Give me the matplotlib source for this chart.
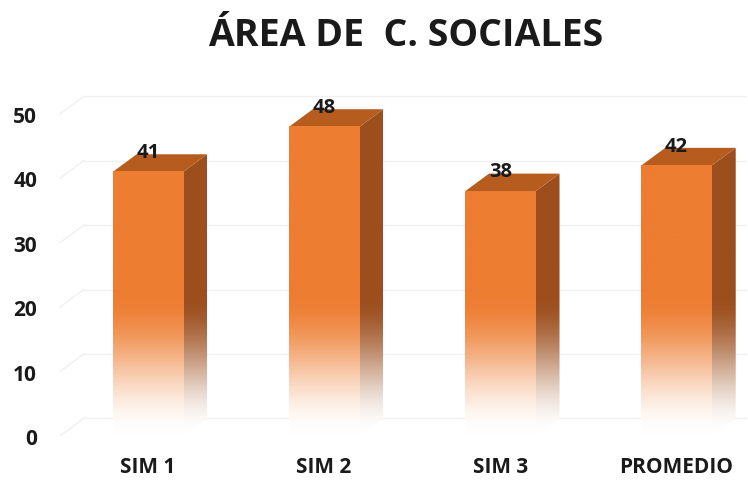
import numpy as np
import matplotlib.pyplot as plt
from matplotlib.patches import Polygon
from matplotlib.colors import to_rgb

plt.rcParams['font.family'] = ['Open Sans', 'DejaVu Sans']

# chart data
categories = ['SIM 1', 'SIM 2', 'SIM 3', 'PROMEDIO']
values = [41, 48, 38, 42]
title = 'ÁREA DE  C. SOCIALES'

front_col = np.array(to_rgb('#ED7D31'))
side_col = np.array(to_rgb('#9C4E1C'))
top_col = np.array(to_rgb('#B65C1F'))
white = np.array([1.0, 1.0, 1.0])

bar_w = 0.40      # front face width (x units)
dx, dy = 0.136, 2.75   # fake 3d depth

fig = plt.figure(figsize=(7.48, 4.81), dpi=100)
ax = fig.add_axes([51 / 748, 44 / 481, 696 / 748, 360.6 / 481])


# vertical fade to white near the floor (smoothstep)
def fade_image(col, y0, y1, n=300):
    ys = np.linspace(y1, y0, n)
    u = np.clip(ys / 22.0, 0, 1)
    t = 3 * u ** 2 - 2 * u ** 3
    rgb = white[None, :] * (1 - t[:, None]) + col[None, :] * t[:, None]
    return np.repeat(rgb[:, None, :], 2, axis=1)


# back wall gridlines + little floor diagonals
for g in range(0, 60, 10):
    ax.plot([-0.5, -0.5 + dx], [g, g + dy], color='#F0F0F0', lw=1, zorder=0)
    ax.plot([-0.5 + dx, 3.4], [g + dy, g + dy], color='#F0F0F0', lw=1, zorder=0)

for i, v in enumerate(values):
    x0, x1 = i - bar_w / 2, i + bar_w / 2

    # side face
    side = Polygon([(x1, 0), (x1 + dx, dy), (x1 + dx, v + dy), (x1, v)],
                   closed=True, facecolor='none', edgecolor='none')
    ax.add_patch(side)
    im = ax.imshow(fade_image(side_col, 0, v + dy), extent=[x1, x1 + dx, 0, v + dy],
                   aspect='auto', interpolation='bilinear', zorder=2)
    im.set_clip_path(side)

    # top face
    ax.add_patch(Polygon([(x0, v), (x0 + dx, v + dy), (x1 + dx, v + dy), (x1, v)],
                         closed=True, facecolor=top_col, edgecolor='none', zorder=2))

    # front face
    ax.imshow(fade_image(front_col, 0, v), extent=[x0, x1, 0, v],
              aspect='auto', interpolation='bilinear', zorder=3)

    ax.text(i, v + 3.1, str(v), ha='center', va='center', fontsize=14.5,
            fontweight='bold', color='#1a1a1a', zorder=5)

ax.set_xlim(-0.55, 3.4)
ax.set_ylim(0, 56)
ax.set_xticks(range(len(categories)))
ax.set_xticklabels(categories)
ax.set_yticks(range(0, 60, 10))
for s in ax.spines.values():
    s.set_visible(False)
ax.tick_params(axis='y', length=0, pad=10, labelsize=15)
ax.tick_params(axis='x', length=0, pad=14.5, labelsize=15)
for lab in ax.get_xticklabels() + ax.get_yticklabels():
    lab.set_fontweight('bold')
    lab.set_color('#1a1a1a')

fig.text(406 / 748, 1 - 36 / 481, title, ha='center', va='center',
         fontsize=27, fontweight='bold', color='#1a1a1a')

fig.savefig('out.png', dpi=100)
